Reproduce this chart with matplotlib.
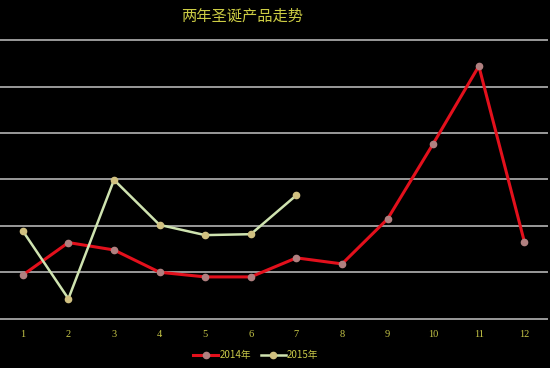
import matplotlib
matplotlib.use("Agg")
import matplotlib.pyplot as plt
from matplotlib.lines import Line2D

plt.rcParams['font.family'] = ['Noto Sans CJK SC', 'DejaVu Sans']

months = ["1", "2", "3", "4", "5", "6", "7", "8", "9", "10", "11", "12"]
sales_2014 = [0.94, 1.64, 1.48, 1.0, 0.90, 0.90, 1.31, 1.18, 2.15, 3.77, 5.44, 1.65]
sales_2015 = [1.89, 0.43, 2.99, 2.02, 1.80, 1.82, 2.66]
title = "两年圣诞产品走势"

fig = plt.figure(figsize=(5.5, 3.68), dpi=100)
fig.patch.set_facecolor("black")
ax = fig.add_axes([0.0, 0.134, 0.995, 0.757])
ax.set_facecolor("black")

x14 = list(range(1, len(sales_2014) + 1))
x15 = list(range(1, len(sales_2015) + 1))

ax.plot(x14, sales_2014, color="#e3101c", lw=2.2, marker="o", markersize=4.5,
        markerfacecolor="#b08080", markeredgecolor="#b08080", zorder=3)
ax.plot(x15, sales_2015, color="#cfe3b0", lw=1.8, marker="o", markersize=4.5,
        markerfacecolor="#d0c080", markeredgecolor="#d0c080", zorder=4)

ax.set_xlim(0.5, 12.5)
ax.set_ylim(0, 6)
ax.set_yticks(range(0, 7))
ax.yaxis.grid(True, color="#9a9a9a", lw=1.4, clip_on=False)
ax.set_axisbelow(True)
ax.set_yticklabels([])
ax.tick_params(axis="y", length=0)
ax.set_xticks(x14)
ax.set_xticklabels(months, color="#c8c848", fontsize=7.5, family=["Liberation Serif"])
ax.tick_params(axis="x", length=0, pad=8)
for s in ax.spines.values():
    s.set_visible(False)

fig.text(0.44, 0.955, title, color="#cccc44", fontsize=11, ha="center", va="center")

handles = [
    Line2D([0], [0], color="#e3101c", lw=2.2, marker="o", markersize=4.5,
           markerfacecolor="#b08080", markeredgecolor="#b08080", label="2014年"),
    Line2D([0], [0], color="#cfe3b0", lw=1.8, marker="o", markersize=4.5,
           markerfacecolor="#d0c080", markeredgecolor="#d0c080", label="2015年"),
]
leg = fig.legend(handles=handles, loc="center", bbox_to_anchor=(0.465, 0.035), ncol=2,
                 frameon=False, fontsize=7, handlelength=2.6, handletextpad=0.1,
                 columnspacing=1.0, labelcolor="#c8c848")

fig.savefig("out.png", dpi=100, facecolor="black")
